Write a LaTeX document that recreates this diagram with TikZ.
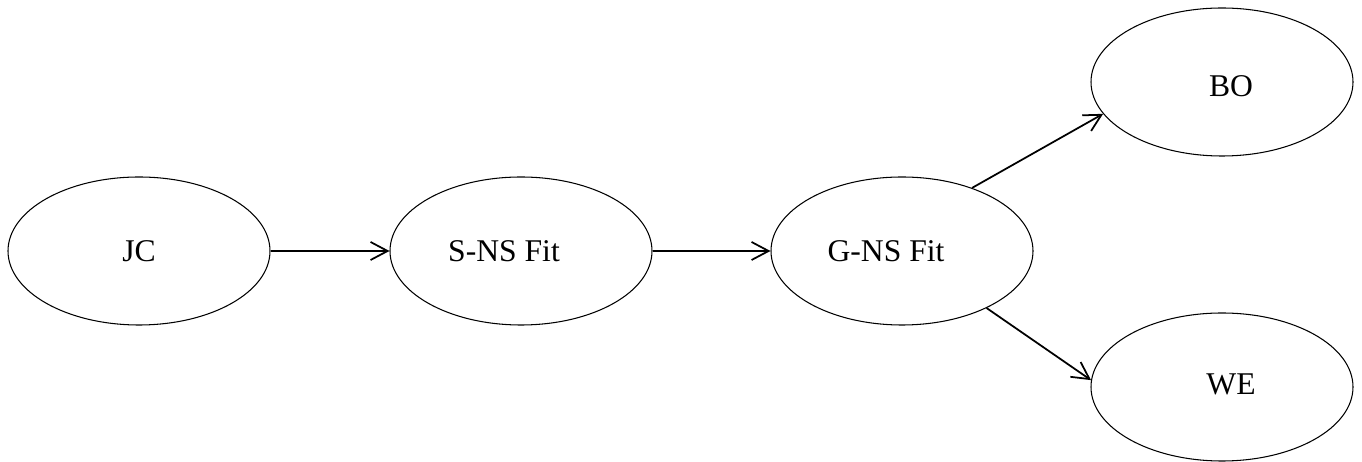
\documentclass[tikz,border=0pt]{standalone}
\usepackage{fontspec}
\setmainfont{Liberation Serif}
\usetikzlibrary{shapes.geometric,arrows.meta}

\begin{document}
\begin{tikzpicture}[
  stage/.style={draw, ellipse, line width=0.6pt, minimum width=5.24cm, minimum height=2.96cm, inner sep=0pt},
  stagetext/.style={font=\fontsize{18}{21}\selectfont, inner sep=0pt},
  flow/.style={line width=1pt, -{Straight Barb[length=0.34cm, width=0.36cm, line width=1pt]}}]
\useasboundingbox (0,0) rectangle (27.24cm, 9.24cm);
\node[stage] (jc) at (2.78, 4.22) {};
\node[stage] (sns) at (10.42, 4.22) {};
\node[stage] (gns) at (18.04, 4.22) {};
\node[stage] (bo) at (24.44, 7.60) {};
\node[stage] (we) at (24.44, 1.50) {};
\node[stagetext] (jctext) at (jc) {JC};
\node[stagetext] (snstext) at ([xshift=-0.34cm]sns) {S-NS Fit};
\node[stagetext] (gnstext) at ([xshift=-0.32cm]gns) {G-NS Fit};
\node[stagetext] (botext) at ([xshift=0.18cm, yshift=-0.08cm]bo) {BO};
\node[stagetext] (wetext) at ([xshift=0.18cm, yshift=0.06cm]we) {WE};
\draw[flow] (jc) -- (sns);
\draw[flow] (sns) -- (gns);
\draw[flow] (gns.42) -- (bo.195);
\draw[flow] (gns.-34) -- (we.177);
\end{tikzpicture}
\end{document}
